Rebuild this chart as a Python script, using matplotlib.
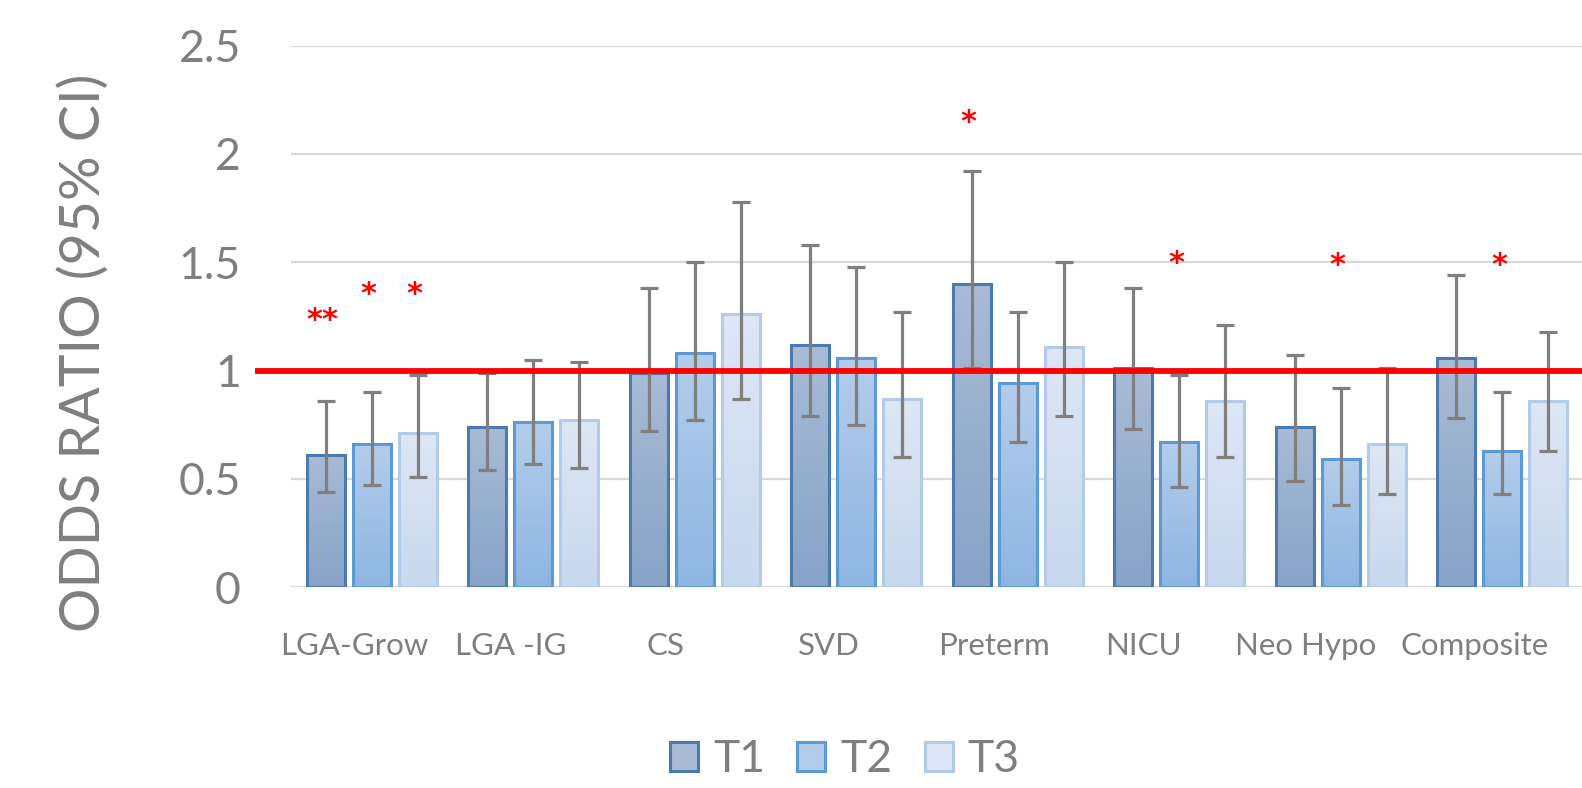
import numpy as np
import matplotlib
matplotlib.use("Agg")
import matplotlib.pyplot as plt
from matplotlib.colors import LinearSegmentedColormap
from matplotlib.patches import Rectangle
import matplotlib.transforms as mtransforms

plt.rcParams['font.family'] = ['Lato', 'DejaVu Sans']

# data
categories = ["LGA-Grow", "LGA -IG", "CS", "SVD", "Preterm", "NICU", "Neo Hypo", "Composite"]
series = ["T1", "T2", "T3"]

t1_or = [0.61, 0.74, 0.99, 1.12, 1.40, 1.01, 0.74, 1.06]
t1_lo = [0.44, 0.54, 0.72, 0.79, 1.01, 0.73, 0.49, 0.78]
t1_hi = [0.86, 0.99, 1.38, 1.58, 1.92, 1.38, 1.07, 1.44]

t2_or = [0.66, 0.76, 1.08, 1.06, 0.94, 0.67, 0.59, 0.63]
t2_lo = [0.47, 0.57, 0.77, 0.75, 0.67, 0.46, 0.38, 0.43]
t2_hi = [0.90, 1.05, 1.50, 1.48, 1.27, 0.98, 0.92, 0.90]

t3_or = [0.71, 0.77, 1.26, 0.87, 1.11, 0.86, 0.66, 0.86]
t3_lo = [0.51, 0.55, 0.87, 0.60, 0.79, 0.60, 0.43, 0.63]
t3_hi = [0.98, 1.04, 1.78, 1.27, 1.50, 1.21, 1.01, 1.18]

# significance markers: (category index, series index, height, text)
star_cat = [0, 0, 0, 4, 5, 6, 7]
star_ser = [0, 1, 2, 0, 1, 1, 1]
star_y = [1.23, 1.35, 1.35, 2.145, 1.495, 1.485, 1.485]
star_txt = ["**", "*", "*", "*", "*", "*", "*"]

ref_line = 1.0

# styling
grey = "#7f7f7f"
edge_cols = ["#4a7ab0", "#5b9bd5", "#b4cbe8"]
top_cols = ["#a9bbd5", "#b4cdeb", "#dde7f5"]
bot_cols = ["#87a3c7", "#8eb5e2", "#c8d8ee"]
label_shift = [-0.11, -0.14, -0.18, -0.17, -0.15, -0.22, -0.22, -0.17]
bar_w = 0.235
bar_step = 0.284

fig = plt.figure(figsize=(15.82, 7.88), dpi=100)
ax = fig.add_axes([291 / 1582, 201 / 788, 1292 / 1582, 541.25 / 788])

vals = [t1_or, t2_or, t3_or]
los = [t1_lo, t2_lo, t3_lo]
his = [t1_hi, t2_hi, t3_hi]
x = np.arange(len(categories))

grad = np.linspace(0, 1, 256).reshape(-1, 1)
for i in range(3):
    xs = x + (i - 1) * bar_step
    v = np.array(vals[i])
    cmap = LinearSegmentedColormap.from_list("g%d" % i, [bot_cols[i], top_cols[i]])
    bars = ax.bar(xs, v, width=bar_w, facecolor="none", edgecolor=edge_cols[i],
                  linewidth=2.2, zorder=3)
    for b in bars:
        bx = b.get_x()
        ax.imshow(grad, extent=[bx, bx + b.get_width(), 0, b.get_height()],
                  origin="lower", cmap=cmap, aspect="auto", zorder=2)
    err = [v - np.array(los[i]), np.array(his[i]) - v]
    ax.errorbar(xs, v, yerr=err, fmt="none", ecolor=grey, elinewidth=2.3,
                capsize=6.8, capthick=2.3, zorder=4)

ax.set_xlim(-0.5, 7.5)
ax.set_ylim(0, 2.5)
ax.set_aspect("auto")

# reference line at OR = 1 (runs a bit left of the plot area)
ax.plot([-0.72, 7.6], [ref_line, ref_line], color="red", lw=4.2, zorder=5,
        clip_on=False, solid_capstyle="butt")

for c, s, yv, t in zip(star_cat, star_ser, star_y, star_txt):
    ax.text(c + (s - 1) * bar_step - 0.02, yv, t, color="red", fontsize=22,
            fontweight="bold", ha="center", va="center", zorder=6,
            family=["DejaVu Sans"])

ax.set_yticks([0, 0.5, 1, 1.5, 2, 2.5])
ax.set_yticklabels(["0", "0.5", "1", "1.5", "2", "2.5"])
ax.yaxis.grid(True, color="#d9d9d9", linewidth=1.6, zorder=0)
ax.set_axisbelow(True)
ax.tick_params(axis="y", length=0, pad=36, labelsize=32, labelcolor=grey)
ax.set_xticks([])
for sp in ax.spines.values():
    sp.set_visible(False)

trans = mtransforms.blended_transform_factory(ax.transData, ax.transAxes)
for k, name in enumerate(categories):
    ax.text(x[k] + label_shift[k], -0.1256, name, transform=trans, ha="center",
            va="baseline", fontsize=22.5, color=grey)

fig.text(84 / 1582, 1 - 353 / 788, "ODDS RATIO (95% CI)", rotation=90,
         ha="center", va="center", fontsize=40, color=grey)

handles = [Rectangle((0, 0), 1, 1, facecolor=top_cols[i], edgecolor=edge_cols[i],
                     linewidth=2.2) for i in range(3)]
fig.legend(handles, series, loc="center", bbox_to_anchor=(845 / 1582, 1 - 760 / 788),
           ncol=3, frameon=False, fontsize=32, labelcolor=grey,
           handlelength=0.63, handleheight=0.63, handletextpad=0.34,
           columnspacing=0.72)

fig.savefig("out.png", dpi=100)
